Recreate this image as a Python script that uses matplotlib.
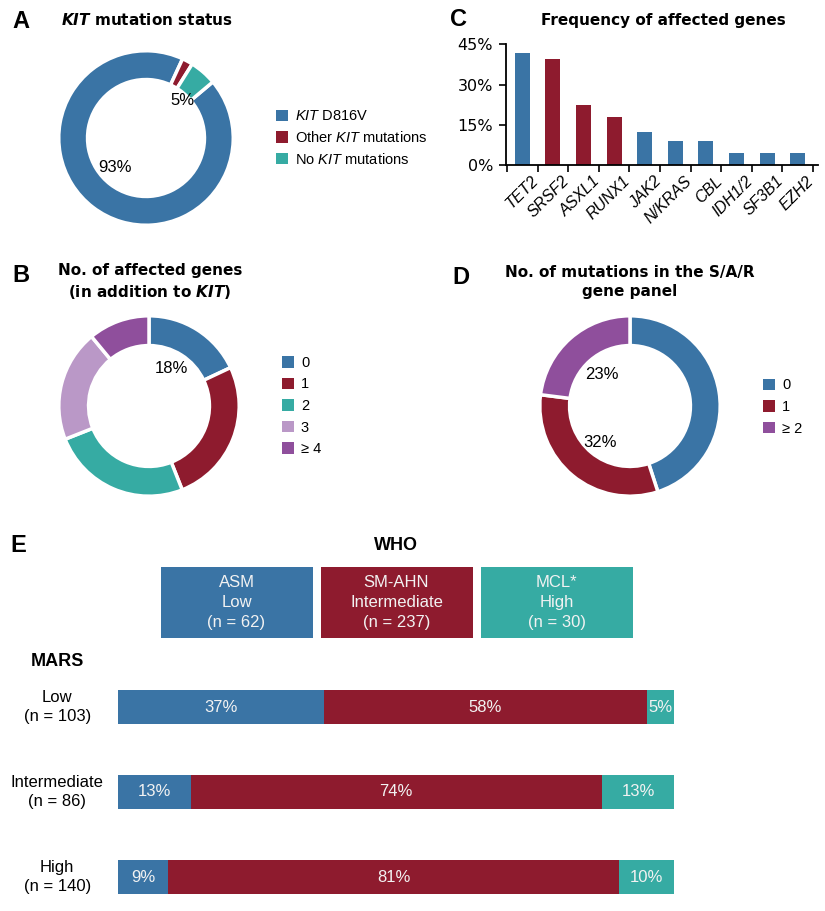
import numpy as np
import matplotlib
matplotlib.use('Agg')
import matplotlib.pyplot as plt
import matplotlib.patches as mpatches
from matplotlib.ticker import NullFormatter
from matplotlib.transforms import ScaledTranslation

plt.rcParams['font.family'] = ['Liberation Sans', 'DejaVu Sans']
plt.rcParams['mathtext.fontset'] = 'custom'
plt.rcParams['mathtext.rm'] = 'Liberation Sans'
plt.rcParams['mathtext.it'] = 'Liberation Sans:italic'
plt.rcParams['mathtext.bf'] = 'DejaVu Sans:bold'
plt.rcParams['mathtext.bfit'] = 'DejaVu Sans:bold:italic'

# colours
BLUE = '#3a74a5'
RED = '#8e1b2e'
TEAL = '#36aba3'
LILAC = '#ba98c7'
PURPLE = '#8f4f9c'

# ---- data ----
# A: KIT mutation status
kit_labels = [r'$\mathit{KIT}$ D816V', r'Other $\mathit{KIT}$ mutations', r'No $\mathit{KIT}$ mutations']
kit_pct = [93, 2, 5]

# B: number of affected genes besides KIT
ngenes_labels = ['0', '1', '2', '3', '≥ 4']
ngenes_pct = [18, 26, 25, 20, 11]

# C: frequency of affected genes
genes = ['TET2', 'SRSF2', 'ASXL1', 'RUNX1', 'JAK2', 'N/KRAS', 'CBL', 'IDH1/2', 'SF3B1', 'EZH2']
gene_freq = [41.8, 39.7, 22.3, 17.9, 12.2, 9.1, 9.1, 4.6, 4.6, 4.6]
sar_genes = ['SRSF2', 'ASXL1', 'RUNX1']

# D: mutations in S/A/R panel
sar_labels = ['0', '1', '≥ 2']
sar_pct = [45, 32, 23]

# E: WHO vs MARS
who_types = ['ASM', 'SM-AHN', 'MCL*']
who_risk = ['Low', 'Intermediate', 'High']
who_n = [62, 237, 30]
mars_groups = ['Low', 'Intermediate', 'High']
mars_n = [103, 86, 140]
asm_pct = [37, 13, 9]
smahn_pct = [58, 74, 81]
mcl_pct = [5, 13, 10]

W, H = 825, 911
fig = plt.figure(figsize=(W / 100, H / 100), dpi=100)


def add_ax(x0, y0, w, h):
    return fig.add_axes([x0 / W, 1 - (y0 + h) / H, w / W, h / H])


def ftext(x, y, s, **kw):
    return fig.text(x / W, 1 - y / H, s, **kw)


def donut(cx, cy, r, values, colors, start):
    ax = add_ax(cx - r, cy - r, 2 * r, 2 * r)
    ax.pie(values, colors=colors, startangle=start, counterclock=False,
           wedgeprops=dict(width=0.33, edgecolor='white', linewidth=2.5))
    ax.set_xlim(-1.02, 1.02)
    ax.set_ylim(-1.02, 1.02)
    ax.set_aspect('equal')
    return ax


def legend(ax, labels, colors, x, y, spacing=0.5):
    handles = [mpatches.Patch(facecolor=c, edgecolor='none') for c in colors]
    ax.legend(handles, labels, loc='center left', bbox_to_anchor=(x / W, 1 - y / H),
              bbox_transform=fig.transFigure, frameon=False, fontsize=10.5,
              handlelength=0.85, handleheight=0.85, handletextpad=0.45,
              labelspacing=spacing, borderpad=0, borderaxespad=0)


title_kw = dict(fontfamily='DejaVu Sans', fontweight='bold', fontsize=11, ha='center', va='center')
letter_kw = dict(fontweight='bold', fontsize=17, ha='left', va='center')

# ---- A ----
ftext(12, 22, 'A', **letter_kw)
ftext(147, 20, r'$\mathbfit{KIT}$ mutation status', **title_kw)
axa = donut(146, 138, 89, kit_pct, [BLUE, RED, TEAL], 40)
axa.text(0.42, 0.43, '5%', fontsize=12, ha='center', va='center')
axa.text(-0.35, -0.34, '93%', fontsize=12, ha='center', va='center')
legend(axa, kit_labels, [BLUE, RED, TEAL], 276, 138, 0.45)

# ---- B ----
ftext(12, 275, 'B', **letter_kw)
ftext(150, 282, 'No. of affected genes\n(in addition to $\\mathbfit{KIT}$)', linespacing=1.4, **title_kw)
axb = donut(149, 406, 92, ngenes_pct, [BLUE, RED, TEAL, LILAC, PURPLE], 90)
axb.text(0.25, 0.42, '18%', fontsize=12, ha='center', va='center')
legend(axb, ngenes_labels, [BLUE, RED, TEAL, LILAC, PURPLE], 282, 406, 0.52)

# ---- C ----
ftext(450, 20, 'C', **letter_kw)
ftext(663, 20, 'Frequency of affected genes', **title_kw)
axc = add_ax(505.7, 44.3, 312.3, 120.7)
xpos = np.arange(len(genes))
bar_colors = [RED if g in sar_genes else BLUE for g in genes]
axc.bar(xpos, gene_freq, width=0.49, color=bar_colors)
axc.set_xlim(-0.54, 9.66)
axc.set_ylim(0, 45)
axc.spines[['top', 'right']].set_visible(False)
axc.spines[['left', 'bottom']].set_linewidth(1.3)
axc.set_yticks([0, 15, 30, 45])
axc.set_yticklabels(['%d%%' % v for v in [0, 15, 30, 45]], fontfamily='DejaVu Sans', fontsize=11.5)
axc.set_xticks(np.arange(-0.5, len(genes), 1))
axc.xaxis.set_major_formatter(NullFormatter())
axc.set_xticks(xpos, minor=True)
axc.set_xticklabels(genes, minor=True, rotation=45, ha='right', va='top',
                    rotation_mode='anchor', fontstyle='italic', fontsize=11.5)
axc.tick_params(which='major', length=5, width=1.2, direction='out')
axc.tick_params(axis='y', pad=4)
axc.tick_params(axis='x', which='minor', length=0, pad=6)
for lbl in axc.get_xticklabels(minor=True):
    lbl.set_transform(lbl.get_transform() + ScaledTranslation(0.085, 0, fig.dpi_scale_trans))

# ---- D ----
ftext(452, 277, 'D', **letter_kw)
ftext(630, 282, 'No. of mutations in the S/A/R\ngene panel', linespacing=1.3, **title_kw)
axd = donut(630, 406, 92, sar_pct, [BLUE, RED, PURPLE], 90)
axd.text(-0.31, 0.35, '23%', fontsize=12, ha='center', va='center')
axd.text(-0.33, -0.41, '32%', fontsize=12, ha='center', va='center')
legend(axd, sar_labels, [BLUE, RED, PURPLE], 763, 407, 0.52)

# ---- E ----
ftext(10, 545, 'E', **letter_kw)
ftext(396, 545, 'WHO', fontweight='bold', fontsize=13, ha='center', va='center')
ftext(57, 662, 'MARS', fontweight='bold', fontsize=13, ha='center', va='center')

axw = add_ax(156.5, 567, 480, 71.3)
wcols = [BLUE, RED, TEAL]
axw.bar(np.arange(3), [1, 1, 1], width=0.95, color=wcols, align='center', bottom=0)
for i in range(3):
    axw.text(i, 0.5, '%s\n%s\n(n = %d)' % (who_types[i], who_risk[i], who_n[i]),
             ha='center', va='center', color='#f2f2f2', fontsize=12, linespacing=1.4)
axw.set_xlim(-0.5, 2.5)
axw.set_ylim(0, 1)
axw.axis('off')

axe = add_ax(118.3, 673, 556, 238)
ypos = np.arange(len(mars_groups))
left = np.zeros(len(mars_groups))
for vals, c in zip([asm_pct, smahn_pct, mcl_pct], wcols):
    axe.barh(ypos, vals, left=left, height=0.4, color=c)
    for y, l, v in zip(ypos, left, vals):
        axe.text(l + v / 2, y, '%d%%' % v, ha='center', va='center', color='#f2f2f2', fontsize=12)
    left = left + np.array(vals)
for y, g, n in zip(ypos, mars_groups, mars_n):
    axe.text(-0.11, y, '%s\n(n = %d)' % (g, n), transform=axe.get_yaxis_transform(),
             ha='center', va='center', fontsize=12, linespacing=1.35)
axe.set_xlim(0, 100)
axe.set_ylim(2.4, -0.4)
axe.axis('off')

fig.savefig('out.png', dpi=100)
